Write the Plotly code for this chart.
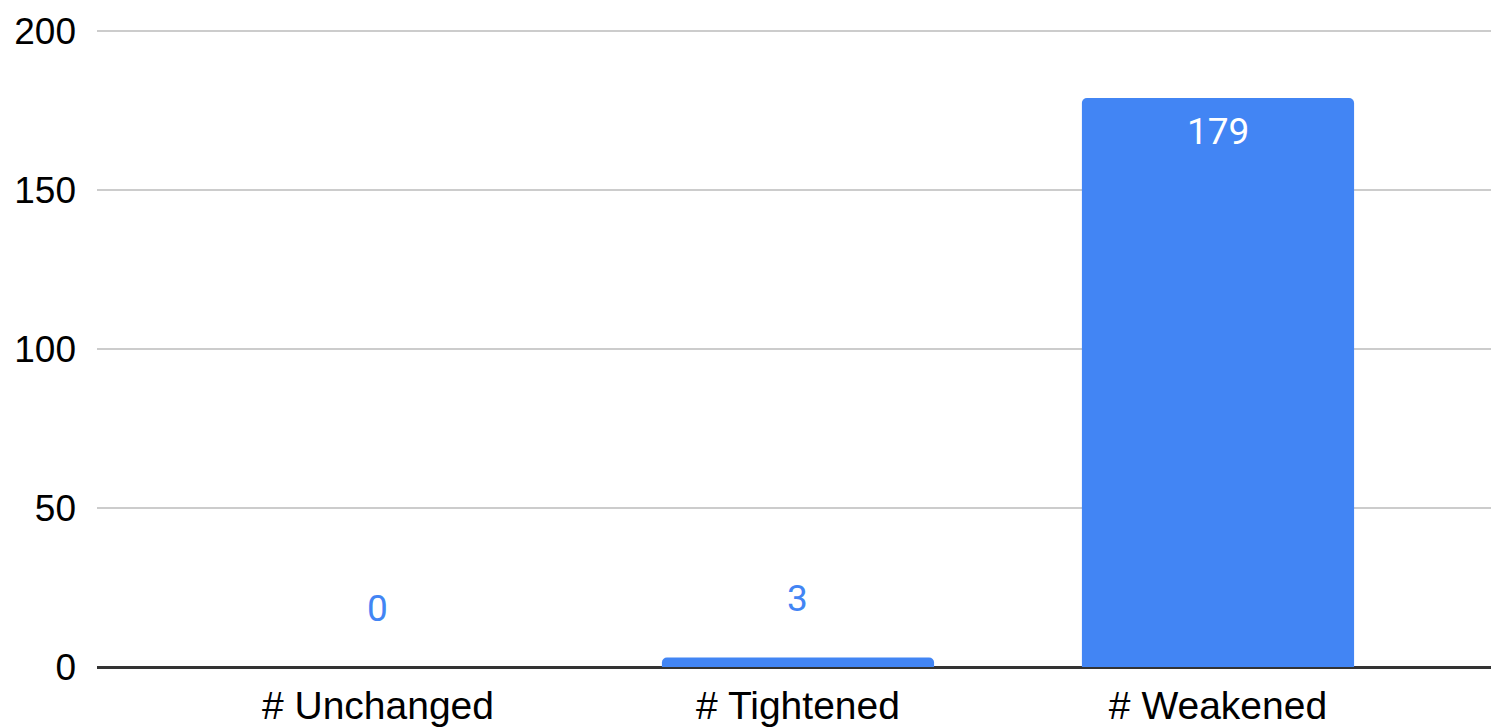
import plotly.graph_objects as go

categories = ["# Unchanged", "# Tightened", "# Weakened"]
values = [0, 3, 179]
tick_vals = [0, 50, 100, 150, 200]

BLUE = "#4285F4"

fig = go.Figure()
fig.add_trace(go.Bar(
    x=list(range(len(categories))),
    y=values,
    width=0.648,
    marker=dict(color=BLUE, line=dict(width=0), cornerradius=5),
    hoverinfo="skip",
))

# data labels
for i, v in enumerate(values):
    inside = v > 100
    fig.add_annotation(
        x=i, y=v, xref="x", yref="y",
        text=str(v), showarrow=False,
        yshift=-33 if inside else 59,
        font=dict(family="Roboto, Liberation Sans, Arial", size=37,
                  color="white" if inside else BLUE),
    )

fig.update_layout(
    width=1491, height=727,
    margin=dict(l=97, r=0, t=30, b=52),
    paper_bgcolor="white", plot_bgcolor="white",
    showlegend=False,
    font=dict(family="Liberation Sans, Arial, sans-serif", size=37, color="#000000"),
)
fig.update_xaxes(
    tickmode="array",
    tickvals=list(range(len(categories))),
    ticktext=categories,
    range=[-0.669, 2.65],
    showgrid=False,
    showline=False,
    zeroline=False,
    ticks="",
    ticklabelstandoff=12,
    tickfont=dict(size=39, color="#000000"),
)
fig.update_yaxes(
    range=[0, 200.4],
    tickmode="array",
    tickvals=tick_vals,
    ticktext=[str(t) for t in tick_vals],
    showgrid=True,
    gridcolor="#cccccc",
    gridwidth=1.5,
    zeroline=True,
    zerolinecolor="#333333",
    zerolinewidth=2.5,
    showline=False,
    ticks="",
    ticklabelstandoff=20,
    tickfont=dict(size=37, color="#000000"),
)

fig.write_html(
    "out.html",
    config={"displayModeBar": False},
    post_script="document.body.style.margin='0';document.body.style.overflow='hidden';",
)
